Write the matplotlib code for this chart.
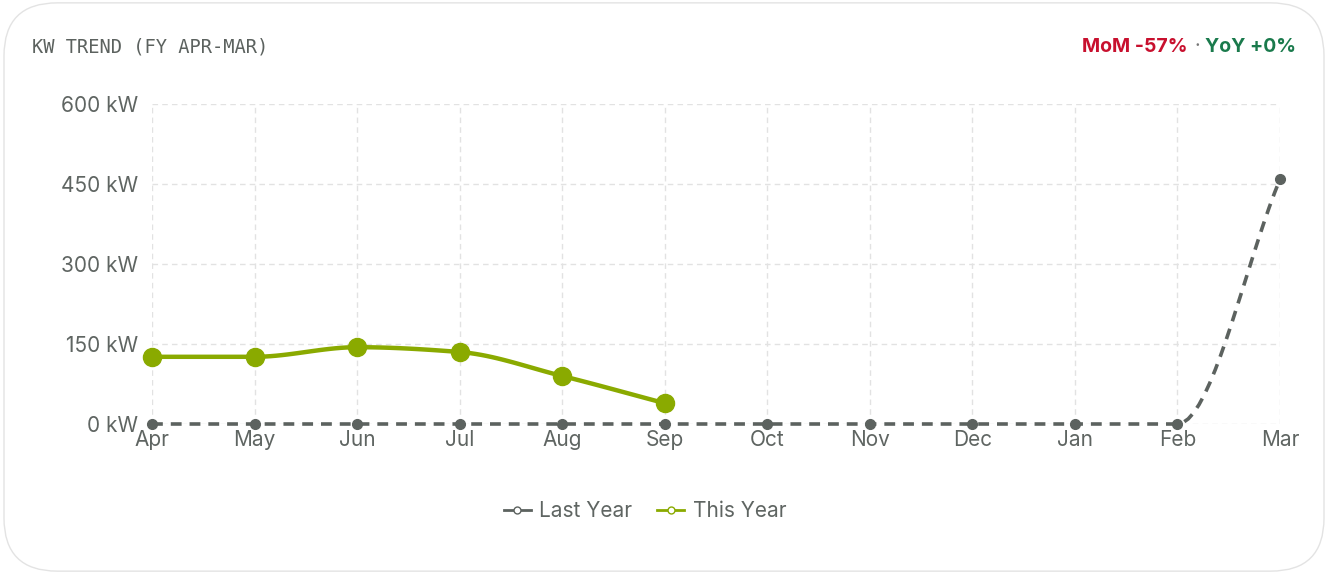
import matplotlib
matplotlib.use("Agg")
import matplotlib.pyplot as plt
import numpy as np
from matplotlib.patches import FancyBboxPatch
from matplotlib.lines import Line2D

months = ["Apr","May","Jun","Jul","Aug","Sep","Oct","Nov","Dec","Jan","Feb","Mar"]
last_year = [0,0,0,0,0,0,0,0,0,0,0,459]
this_year = [126,126,144,135,90,39]

def monotone(x, y, n=20):
    x = np.asarray(x, float); y = np.asarray(y, float)
    h = np.diff(x); d = np.diff(y)/h
    m = np.zeros_like(y)
    m[0], m[-1] = d[0], d[-1]
    for i in range(1, len(y)-1):
        if d[i-1]*d[i] <= 0: m[i] = 0
        else: m[i] = 3*(h[i-1]+h[i])/((2*h[i]+h[i-1])/d[i-1]+(h[i]+2*h[i-1])/d[i])
    xs, ys = [], []
    for i in range(len(h)):
        t = np.linspace(0, 1, n)
        h00 = 2*t**3-3*t**2+1; h10 = t**3-2*t**2+t; h01 = -2*t**3+3*t**2; h11 = t**3-t**2
        xs.append(x[i]+t*h[i]); ys.append(h00*y[i]+h10*h[i]*m[i]+h01*y[i+1]+h11*h[i]*m[i+1])
    return np.concatenate(xs), np.concatenate(ys)

plt.rcParams['font.family'] = ['Inter', 'DejaVu Sans']
fig = plt.figure(figsize=(13.28, 5.74), dpi=100)
card = FancyBboxPatch((0.003, 0.005), 0.994, 0.99, boxstyle="round,pad=0,rounding_size=0.04",
    transform=fig.transFigure, facecolor="white", edgecolor="#e3e3e3", lw=1, mutation_aspect=1328/574, zorder=-10)
fig.patches.append(card)
ax = fig.add_axes([152/1328, 150/574, 1128/1328, 320/574])
ax.set_facecolor("none")
x = np.arange(len(months))
gray = "#5c625f"; green = "#8aaa00"
lx, ly = monotone(x, last_year)
ax.plot(lx, ly, color=gray, lw=2.6, ls=(0, (3, 2.2)), zorder=3, clip_on=False)
ax.plot(x, last_year, 'o', color=gray, ms=7, zorder=4, clip_on=False)
tx, ty = monotone(x[:len(this_year)], this_year)
ax.plot(tx, ty, color=green, lw=3.2, zorder=5, clip_on=False)
ax.plot(x[:len(this_year)], this_year, 'o', color=green, ms=13, zorder=6, clip_on=False)
ax.set_xlim(0, 11); ax.set_ylim(0, 600)
ax.set_yticks([0,150,300,450,600]); ax.set_yticklabels([f"{v} kW" for v in [0,150,300,450,600]])
ax.set_xticks(x); ax.set_xticklabels(months)
ax.grid(True, color="#e2e2e2", ls=(0,(4,3)), lw=1)
for s in ax.spines.values(): s.set_visible(False)
ax.tick_params(length=0, labelsize=15, colors="#5f6562", pad=10)
ax.tick_params(axis='x', pad=4)
fig.text(32/1328, 1-47/574, "KW TREND (FY APR-MAR)", family="DejaVu Sans Mono", fontsize=13.5, color="#5c625f", va="center")
fig.text(1188/1328, 1-47/574, "MoM -57%", color="#c8102e", fontsize=14, weight="bold", ha="right", va="center")
fig.text(1197/1328, 1-47/574, "·", color="#777", fontsize=14, ha="center", va="center")
fig.text(1296/1328, 1-47/574, "YoY +0%", color="#1a7a4c", fontsize=14, weight="bold", ha="right", va="center")
h = [Line2D([], [], color=gray, marker='o', ms=5, mfc='white', lw=2),
     Line2D([], [], color=green, marker='o', ms=5, mfc='white', lw=2)]
fig.legend(h, ["Last Year", "This Year"], loc="center", bbox_to_anchor=(645/1328, 1-511/574), ncol=2,
           frameon=False, fontsize=15, handlelength=1.3, handletextpad=0.4, columnspacing=1.2, labelcolor="#5f6562")
fig.savefig("out.png", dpi=100)
